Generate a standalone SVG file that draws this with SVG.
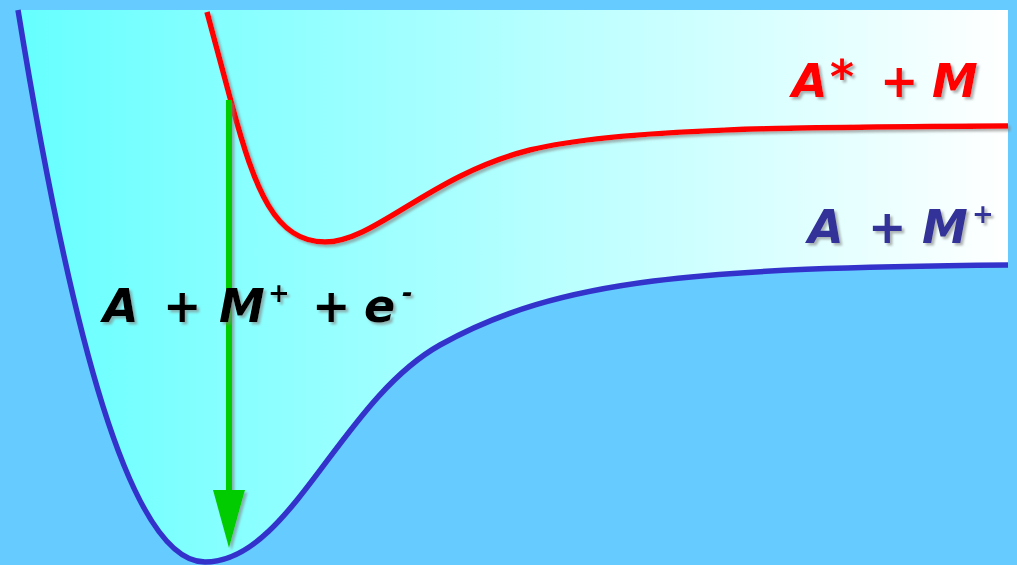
<svg xmlns="http://www.w3.org/2000/svg" width="1017" height="565" viewBox="0 0 1017 565">
<defs>
<linearGradient id="bg" x1="0" y1="0" x2="1" y2="0">
<stop offset="0" stop-color="#66FFFF"/>
<stop offset="1" stop-color="#FFFFFF"/>
</linearGradient>
<filter id="sh" x="-10%" y="-10%" width="130%" height="130%">
<feDropShadow dx="2.5" dy="2.5" stdDeviation="0.8" flood-color="#808080" flood-opacity="0.6"/>
</filter>
<style>
.lbl{font-family:"Comic Sans MS","DejaVu Sans",sans-serif;font-weight:bold;font-style:italic;font-size:46px;filter:url(#sh)}
.sup{font-size:26px}
.curve{fill:none;stroke-width:5.5;stroke-linecap:butt}
</style>
</defs>
<rect x="0" y="0" width="1017" height="565" fill="#66CCFF"/>
<g id="well">
<path d="M18,10 L1008,10 L1008,265 C700,268 560,278 440,345 C340,401 290,562 205,562 C130,562 70,330 18,10 Z" fill="url(#bg)"/>
</g>
<g id="connectors">
<path id="ground" class="curve" stroke="#3333CC" stroke-width="6" d="M18,10 C70,330 130,562 205,562 C290,562 340,401 440,345 C560,278 700,268 1008,265"/>
<path id="excited" class="curve" stroke="#FF0000" filter="url(#sh)" d="M207,12 L232,105 C255,190 275,242 325,242 C375,242 430,175 530,150 C620,128 800,127 1008,126"/>
<g id="transition" filter="url(#sh)">
<line x1="229" y1="100" x2="229" y2="492" stroke="#00CC00" stroke-width="6"/>
<path d="M213,490 L245,490 L229,548 Z" fill="#00CC00"/>
</g>
</g>
<g id="label-excited">
<text class="lbl" fill="#FF0000" y="97"><tspan x="792">A</tspan><tspan x="830" dy="-4">*</tspan><tspan x="880" dy="4">+</tspan><tspan x="932">M</tspan></text>
</g>
<g id="label-ion">
<text class="lbl" fill="#333399" y="243"><tspan x="808">A</tspan><tspan x="868">+</tspan><tspan x="922">M</tspan><tspan class="sup" x="972" dy="-20">+</tspan></text>
</g>
<g id="label-ionized">
<text class="lbl" fill="#000000" y="322"><tspan x="103">A</tspan><tspan x="163">+</tspan><tspan x="219">M</tspan><tspan class="sup" x="268" dy="-20">+</tspan><tspan x="312" dy="20">+</tspan><tspan x="364">e</tspan><tspan class="sup" x="402" dy="-20">-</tspan></text>
</g>
</svg>
